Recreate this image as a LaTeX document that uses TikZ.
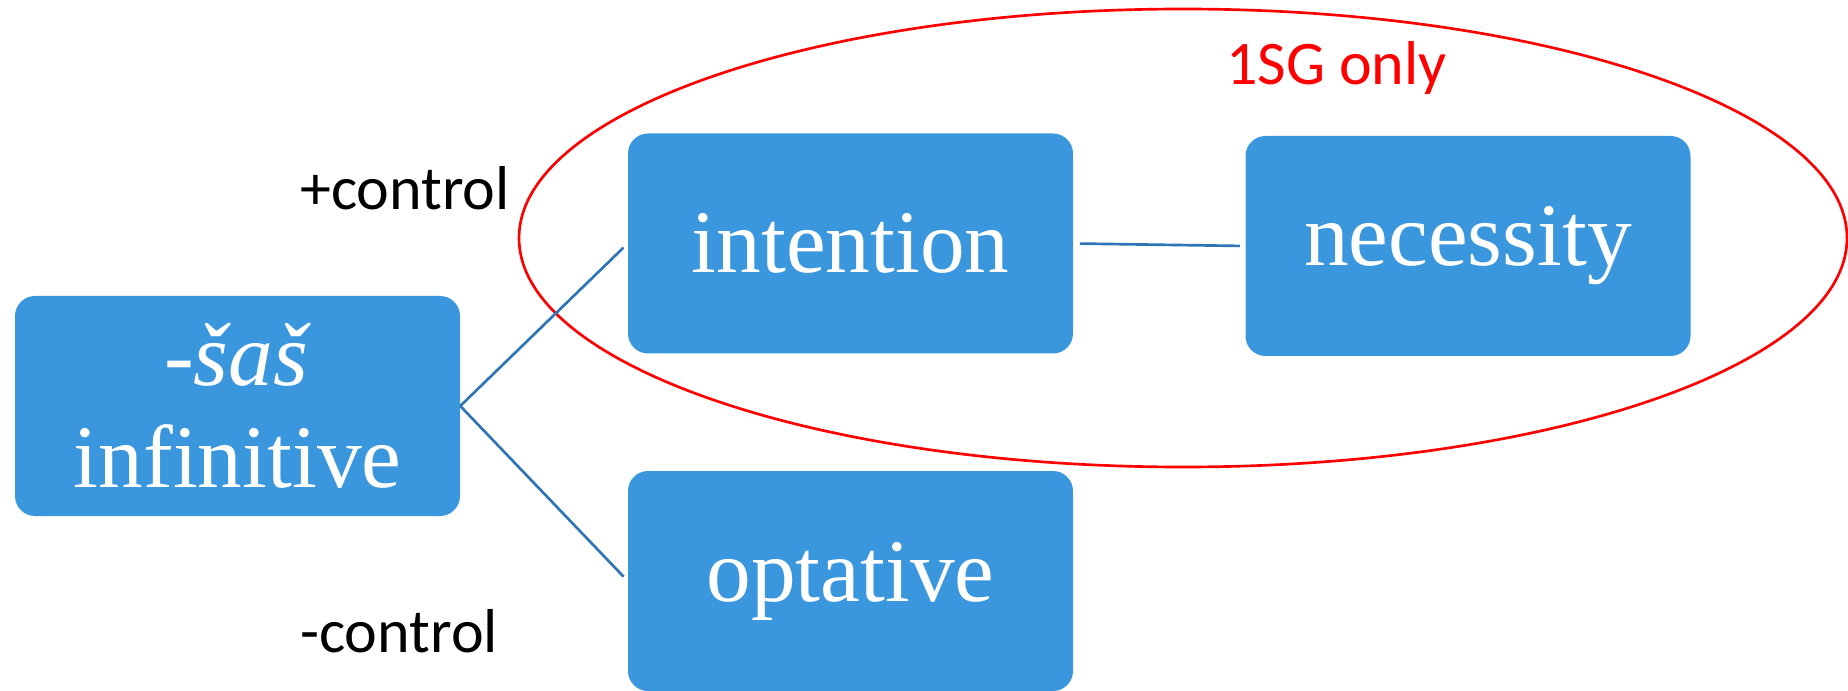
\documentclass[tikz,border=0pt]{standalone}
\usepackage{fontspec}
\setmainfont{Liberation Serif}
\newfontfamily\calibri{Carlito}

\tikzset{
  box/.style={rectangle, rounded corners=15pt, fill={rgb, 255:red, 58; green, 150; blue, 221}, fill opacity=1, text=white, minimum width=333.75pt, minimum height=165pt, inner sep=0pt, align=center, font=\fontsize{67}{76.5}\selectfont},
  link/.style={draw={rgb, 255:red, 46; green, 117; blue, 182}, line width=2pt},
  tag/.style={inner sep=0pt, anchor=base west, font=\calibri\fontsize{46.5}{50}\selectfont}
}

\begin{document}
\begin{tikzpicture}[x=0.75pt,y=0.75pt,yscale=-1,xscale=1]
\useasboundingbox (0,0) rectangle (1848,691);

%Shape: Ellipse [id:1sg]
\draw [color={rgb, 255:red, 255; green, 0; blue, 0 }, line width=2pt] (1183,238) ellipse [x radius=664, y radius=229];

%Boxes
\node [box] (infinitive) at (237.5,406) {\textit{-šaš}\\infinitive};
\node [box] (intention) at (850.5,243.5) {intention};
\node [box] (necessity) at (1468,246) {necessity};
\node [box] (optative) at (850.5,581) {optative};

%Straight Lines
\draw [link, shorten >=4.5pt] (infinitive.east) -- (intention.west);
\draw [link, shorten >=4.5pt] (infinitive.east) -- (optative.west);
\draw [link, shorten <=5pt, shorten >=4pt] (intention.east) -- (necessity.west);

% Text Node
\node [tag] (plus) at (300,210) {+control};
% Text Node
\node [tag] (minus) at (300,652) {-control};
% Text Node
\node [tag, text={rgb, 255:red, 255; green, 0; blue, 0 }] (only) at (1226,85) {1SG only};

\end{tikzpicture}
\end{document}
